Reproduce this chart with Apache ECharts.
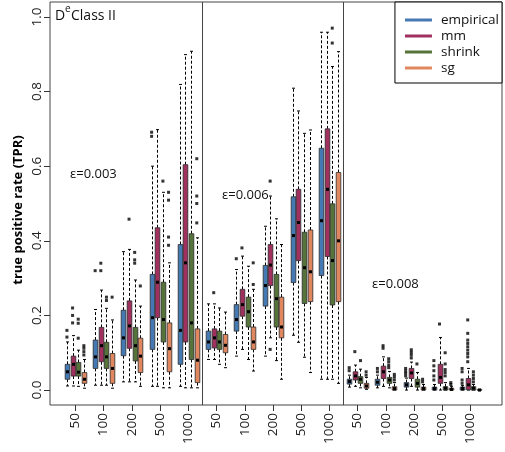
<!DOCTYPE html>
<html><head><meta charset="utf-8">
<script src="https://cdn.jsdelivr.net/npm/echarts@6/dist/echarts.min.js"></script>
<style>html,body{margin:0;padding:0;background:#fff}#c{width:505px;height:452px}</style>
</head><body><div id="c"></div>
<script>
// ---- data ----
const sampleSizes = ['50', '100', '200', '500', '1000'];
const epsilonLabels = ['ε=0.003', 'ε=0.006', 'ε=0.008'];
const methods = ['empirical', 'mm', 'shrink', 'sg'];
const yTicks = [0, 0.2, 0.4, 0.6, 0.8, 1.0];

// [lower whisker, Q1, median, Q3, upper whisker] per group (3 panels x 5 sample sizes)
const empiricalStats = [
  [0.011, 0.029, 0.049, 0.069, 0.129], [0.013, 0.058, 0.089, 0.134, 0.216], [0.022, 0.092, 0.140, 0.214, 0.371], [0.010, 0.109, 0.194, 0.310, 0.600], [0.010, 0.069, 0.160, 0.390, 0.819],
  [0.082, 0.109, 0.129, 0.158, 0.231], [0.091, 0.158, 0.189, 0.229, 0.323], [0.091, 0.225, 0.280, 0.334, 0.439], [0.147, 0.288, 0.414, 0.518, 0.809], [0.029, 0.307, 0.454, 0.648, 0.959],
  [0.008, 0.016, 0.023, 0.029, 0.040], [0.006, 0.013, 0.021, 0.029, 0.040], [0.000, 0.008, 0.014, 0.020, 0.032], [0.000, 0.000, 0.004, 0.008, 0.015], [0.000, 0.000, 0.004, 0.008, 0.012]
];
const empiricalOutliers = [
  [0.142, 0.160], [0.320], [], [0.680, 0.691], [],
  [], [0.352], [], [], [],
  [0.052, 0.060], [0.049, 0.058], [0.038, 0.045, 0.051, 0.058], [0.027, 0.038, 0.052, 0.065, 0.079], [0.018, 0.027, 0.049, 0.058]
];
const mmStats = [
  [0.011, 0.0375, 0.069, 0.091, 0.146], [0.013, 0.076, 0.119, 0.168, 0.268], [0.022, 0.112, 0.172, 0.239, 0.377], [0.010, 0.194, 0.289, 0.435, 0.698], [0.006, 0.129, 0.341, 0.604, 0.899],
  [0.082, 0.113, 0.140, 0.164, 0.231], [0.109, 0.198, 0.229, 0.270, 0.359], [0.140, 0.280, 0.335, 0.390, 0.520], [0.128, 0.347, 0.449, 0.538, 0.748], [0.029, 0.358, 0.538, 0.700, 0.959],
  [0.010, 0.027, 0.038, 0.049, 0.067], [0.010, 0.031, 0.049, 0.064, 0.089], [0.010, 0.031, 0.046, 0.058, 0.075], [0.000, 0.018, 0.034, 0.069, 0.141], [0.000, 0.001, 0.014, 0.031, 0.058]
];
const mmOutliers = [
  [0.180, 0.200, 0.220], [0.320, 0.340], [0.458], [], [],
  [0.261], [0.381], [0.109, 0.560], [], [],
  [0.103], [0.112, 0.119], [0.086, 0.094, 0.101, 0.108], [0.177], [0.076, 0.089, 0.098, 0.107, 0.116, 0.125, 0.134, 0.152, 0.188]
];
const shrinkStats = [
  [0.010, 0.0375, 0.048, 0.074, 0.107], [0.013, 0.058, 0.089, 0.128, 0.219], [0.022, 0.078, 0.119, 0.168, 0.295], [0.006, 0.129, 0.189, 0.289, 0.530], [0.006, 0.082, 0.180, 0.419, 0.908],
  [0.069, 0.109, 0.129, 0.158, 0.220], [0.082, 0.169, 0.210, 0.249, 0.332], [0.079, 0.169, 0.245, 0.310, 0.459], [0.088, 0.232, 0.328, 0.423, 0.688], [0.029, 0.228, 0.347, 0.499, 0.867],
  [0.006, 0.018, 0.029, 0.036, 0.056], [0.006, 0.018, 0.027, 0.034, 0.050], [0.000, 0.008, 0.018, 0.029, 0.047], [0.000, 0.000, 0.005, 0.009, 0.020], [0.000, 0.000, 0.005, 0.009, 0.015]
];
const shrinkOutliers = [
  [0.139, 0.179, 0.190], [0.240, 0.249], [0.340, 0.349, 0.369], [0.560], [],
  [], [], [], [], [0.930, 0.970],
  [0.079], [0.060, 0.067, 0.076, 0.084], [0.070], [0.038, 0.047, 0.055, 0.070, 0.100], [0.022, 0.031, 0.040, 0.049]
];
const sgStats = [
  [0.005, 0.018, 0.029, 0.047, 0.082], [0.005, 0.018, 0.058, 0.098, 0.188], [0.010, 0.047, 0.091, 0.139, 0.225], [0.006, 0.049, 0.111, 0.180, 0.341], [0.006, 0.020, 0.080, 0.164, 0.408],
  [0.060, 0.100, 0.120, 0.149, 0.209], [0.051, 0.109, 0.129, 0.169, 0.270], [0.029, 0.140, 0.169, 0.249, 0.390], [0.047, 0.237, 0.317, 0.429, 0.697], [0.018, 0.237, 0.400, 0.583, 0.907],
  [0.002, 0.005, 0.011, 0.018, 0.034], [0.000, 0.000, 0.004, 0.009, 0.020], [0.000, 0.000, 0.004, 0.008, 0.015], [0.000, 0.000, 0.002, 0.005, 0.010], [0.000, 0.000, 0.000, 0.002, 0.002]
];
const sgOutliers = [
  [0.094, 0.103, 0.112, 0.119], [0.249], [0.279], [0.388, 0.410, 0.509, 0.530], [0.448, 0.500, 0.520, 0.620],
  [], [0.283, 0.341], [], [], [],
  [0.040, 0.049], [0.027, 0.035, 0.042], [0.022, 0.029], [0.015, 0.020], []
];

// ---- styling ----
const colors = ['#4579B3', '#A0305E', '#56733A', '#E0875F'];
const allStats = [empiricalStats, mmStats, shrinkStats, sgStats];
const allOutliers = [empiricalOutliers, mmOutliers, shrinkOutliers, sgOutliers];
const GROUP_STEP = 5; // 4 boxes + 1 gap per group
const nGroups = empiricalStats.length;
const groupCenters = [];
for (let k = 0; k < nGroups; k++) groupCenters.push(k * GROUP_STEP + 1.5);
const panelBreaks = [
  (groupCenters[4] + groupCenters[5]) / 2,
  (groupCenters[9] + groupCenters[10]) / 2
];
const FONT = '"Open Sans", "Noto Sans", sans-serif';

function makeRender(color) {
  return function (params, api) {
    const x = api.value(0);
    const lo = api.coord([x, api.value(1)]);
    const q1 = api.coord([x, api.value(2)]);
    const med = api.coord([x, api.value(3)]);
    const q3 = api.coord([x, api.value(4)]);
    const hi = api.coord([x, api.value(5)]);
    const cx = Math.round(lo[0]) + 0.5;
    const bw = 4.6, sw = 3;
    const dash = { stroke: '#000', lineWidth: 1, lineDash: [3, 2] };
    const solid = { stroke: '#000', lineWidth: 1 };
    return {
      type: 'group',
      children: [
        { type: 'line', shape: { x1: cx, y1: q3[1], x2: cx, y2: hi[1] }, style: dash },
        { type: 'line', shape: { x1: cx, y1: q1[1], x2: cx, y2: lo[1] }, style: dash },
        { type: 'line', shape: { x1: cx - sw / 2, y1: hi[1], x2: cx + sw / 2, y2: hi[1] }, style: solid },
        { type: 'line', shape: { x1: cx - sw / 2, y1: lo[1], x2: cx + sw / 2, y2: lo[1] }, style: solid },
        { type: 'rect', shape: { x: cx - bw / 2, y: q3[1], width: bw, height: Math.max(q1[1] - q3[1], 1) },
          style: { fill: color, stroke: '#2a2a2a', lineWidth: 0.8 } },
        { type: 'rect', shape: { x: cx - 1.5, y: med[1] - 1.5, width: 3, height: 3 }, style: { fill: '#000' } }
      ]
    };
  };
}

const series = [];
methods.forEach((m, i) => {
  const data = allStats[i].map((s, k) => [k * GROUP_STEP + i].concat(s));
  const s = {
    name: m,
    type: 'custom',
    renderItem: makeRender(colors[i]),
    itemStyle: { color: colors[i] },
    encode: { x: 0, y: [1, 2, 3, 4, 5] },
    data: data,
    z: 2
  };
  if (i === 0) {
    s.markLine = {
      silent: true, symbol: ['none', 'none'],
      label: { show: false },
      lineStyle: { color: '#444', type: 'solid', width: 1 },
      data: panelBreaks.map(v => ({ xAxis: v }))
    };
  }
  series.push(s);
});
const outlierData = [];
methods.forEach((m, i) => {
  allOutliers[i].forEach((arr, k) => arr.forEach(v => outlierData.push([k * GROUP_STEP + i, v])));
});
series.push({
  name: 'outliers', type: 'scatter', symbol: 'rect', symbolSize: 3,
  itemStyle: { color: '#000' }, data: outlierData, z: 3, silent: true
});

const chart = echarts.init(document.getElementById('c'), null, { renderer: 'canvas' });
chart.setOption({
  animation: false,
  backgroundColor: '#fff',
  grid: { left: 50, right: 3, top: 2, bottom: 47, show: true, borderColor: '#444', borderWidth: 1, backgroundColor: 'transparent' },
  xAxis: {
    type: 'value', min: -3, max: 77.07,
    axisLine: { show: false, onZero: false }, splitLine: { show: false },
    axisTick: { show: true, inside: false, length: 6, customValues: groupCenters, lineStyle: { color: '#333' } },
    axisLabel: {
      customValues: groupCenters, rotate: 90, margin: 8,
      fontFamily: FONT, fontSize: 13.5, color: '#222',
      formatter: v => {
        const k = Math.round((v - 1.5) / GROUP_STEP);
        return sampleSizes[k % sampleSizes.length];
      }
    }
  },
  yAxis: {
    type: 'value', min: -0.04, max: 1.04,
    axisLine: { show: false, onZero: false }, splitLine: { show: false },
    axisTick: { show: true, inside: false, length: 6, customValues: yTicks, lineStyle: { color: '#333' } },
    axisLabel: { customValues: yTicks, rotate: 90, margin: 6, fontFamily: FONT, fontSize: 13.5, color: '#222',
      formatter: v => v.toFixed(1) }
  },
  legend: {
    data: methods.map((m, i) => ({ name: m, icon: 'rect', itemStyle: { color: colors[i] } })),
    orient: 'vertical', right: 3, top: 2,
    itemWidth: 27, itemHeight: 3, itemGap: 2,
    padding: [11, 3, 8, 10],
    borderColor: '#000', borderWidth: 1, backgroundColor: '#fff',
    textStyle: { fontFamily: FONT, fontSize: 13.5, color: '#111', padding: [0, 0, 0, 4] }
  },
  graphic: [
    { type: 'text', left: 55, top: 9, style: { text: 'D', fontFamily: FONT, fontSize: 14, fill: '#111' } },
    { type: 'text', left: 65, top: 4, style: { text: 'e', fontFamily: FONT, fontSize: 10, fill: '#111' } },
    { type: 'text', left: 71, top: 9, style: { text: 'Class II', fontFamily: FONT, fontSize: 14, fill: '#111' } },
    { type: 'text', left: 70, top: 168, style: { text: epsilonLabels[0], fontFamily: FONT, fontSize: 13, fill: '#111' } },
    { type: 'text', left: 222, top: 189, style: { text: epsilonLabels[1], fontFamily: FONT, fontSize: 13, fill: '#111' } },
    { type: 'text', left: 372, top: 278, style: { text: epsilonLabels[2], fontFamily: FONT, fontSize: 13, fill: '#111' } },
    { type: 'text', x: 18, y: 210, rotation: Math.PI / 2,
      style: { text: 'true positive rate (TPR)', fontFamily: FONT, fontSize: 13, fontWeight: 'bold', fill: '#000', align: 'center', verticalAlign: 'middle' } }
  ],
  series: series
});
</script></body></html>
